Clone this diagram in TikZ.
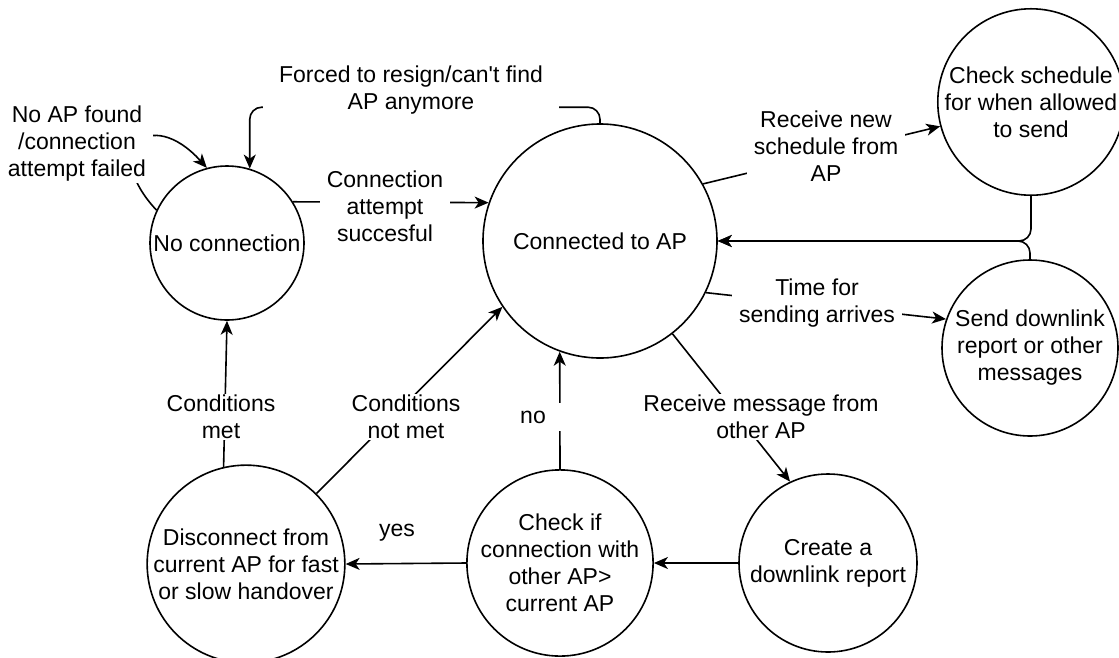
\documentclass[tikz,border=0pt]{standalone}
\usepackage{fontspec}
\setmainfont{Liberation Sans}[Ligatures=TeXOff]
\usetikzlibrary{arrows.meta}

\tikzset{every picture/.style={line width=1.6pt}}
\tikzset{
  stnode/.style={draw, circle, inner sep=0pt, align=center, minimum size=#1},
  lbl/.style={fill=white, align=center, inner xsep=7pt, inner ysep=1pt},
  arr/.style={-{Stealth[length=14pt,width=12pt,inset=4pt]}},
}

\begin{document}
\begin{tikzpicture}[x=1pt,y=-1pt,font=\fontsize{23}{27}\selectfont]
\useasboundingbox (0,0) rectangle (1119,657);

%Shape: Circle
\node[stnode=154pt] (nocon) at (227,243) {No connection};
%Shape: Circle
\node[stnode=234pt] (con) at (600,241) {Connected to AP};
%Shape: Circle
\node[stnode=178pt] (sched) at (1031,102) {Check schedule\\for when allowed\\to send};
%Shape: Circle
\node[stnode=176pt] (send) at (1030,348) {Send downlink\\report or other\\messages};
%Shape: Circle
\node[stnode=178pt] (create) at (828,563) {Create a\\downlink report};
%Shape: Circle
\node[stnode=176pt] (checkif) at (560,563) {Check if\\connection with\\other AP>\\current AP};
%Shape: Circle
\node[stnode=194pt] (disc) at (246,564) {Disconnect from\\current AP for fast\\or slow handover};

%Curve Lines
\draw[arr] (nocon.155) .. controls (100,150) and (150,105) .. (nocon.105);
%Straight Lines
\draw[arr, rounded corners=12pt] (con.north) -- ++(0,-16) -| (nocon.73);
%Straight Lines
\draw[arr] (nocon.32) -- (con.161);
%Straight Lines
\draw[arr] (con.29) -- (sched.195);
%Straight Lines
\draw[arr] (con.334) -- (send.161);
%Straight Lines
\draw[arr, rounded corners=12pt] (sched.south) |- (con.east);
\draw[arr, rounded corners=12pt] (send.north) |- (con.east);
%Straight Lines
\draw[arr] (con.308) -- (create.115);
%Straight Lines
\draw[arr] (create.west) -- (checkif.east);
%Straight Lines
\draw[arr] (checkif.west) -- (disc.east);
%Straight Lines
\draw[arr] (checkif.north) -- (con.250);
%Straight Lines
\draw[arr] (disc.103) -- (nocon.south);
%Straight Lines
\draw[arr] (disc.45) -- (con.214);

% Text Node
\node[lbl] (noap) at (77,144) {No AP found\\/connection\\attempt failed};
% Text Node
\node[lbl, inner xsep=16pt] (forced) at (411,90) {Forced to resign/can't find\\AP anymore};
% Text Node
\node[lbl] (succ) at (385,206) {Connection\\attempt\\succesful};
% Text Node
\node[lbl] (newsched) at (826,146) {Receive new\\schedule from\\AP};
% Text Node
\node[lbl] (timefor) at (817,303) {Time for\\sending arrives};
% Text Node
\node[lbl] (recvmsg) at (761,417) {Receive message from\\other AP};
% Text Node
\node[lbl] (condmet) at (221,417) {Conditions\\met};
% Text Node
\node[lbl] (condnot) at (406,417) {Conditions\\not met};
% Text Node
\node[lbl, inner xsep=17pt, inner ysep=8pt] (nolbl) at (533,417) {no};
% Text Node
\node (yeslbl) at (397,533) {yes};
\end{tikzpicture}
\end{document}
